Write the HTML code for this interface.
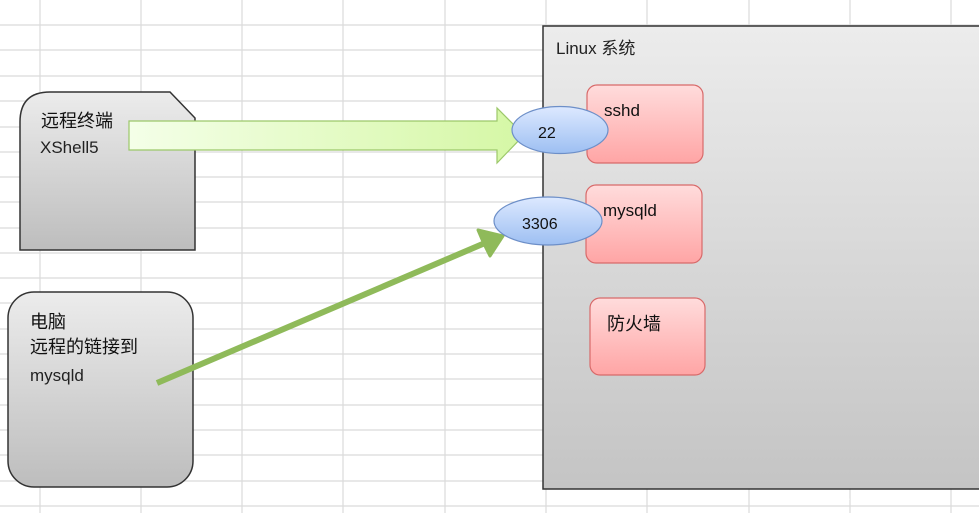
<!DOCTYPE html>
<html><head><meta charset="utf-8"><style>
body{margin:0;width:979px;height:513px;overflow:hidden;background:#fff;font-family:"Liberation Sans","Noto Sans CJK SC",sans-serif;}
</style></head><body>
<svg width="979" height="513" xmlns="http://www.w3.org/2000/svg" style="position:absolute;left:0;top:0">
<defs>
<linearGradient id="g1" x1="0" y1="0" x2="0" y2="1"><stop offset="0" stop-color="#ececec"/><stop offset="1" stop-color="#bdbdbd"/></linearGradient>
<linearGradient id="g2" x1="0" y1="0" x2="0" y2="1"><stop offset="0" stop-color="#ececec"/><stop offset="1" stop-color="#c4c4c4"/></linearGradient>
<linearGradient id="red" x1="0" y1="0" x2="0" y2="1"><stop offset="0" stop-color="#ffdcdc"/><stop offset="1" stop-color="#ffa5a5"/></linearGradient>
<linearGradient id="blue" x1="0" y1="0" x2="0" y2="1"><stop offset="0" stop-color="#dde9ff"/><stop offset="1" stop-color="#9dbff2"/></linearGradient>
<linearGradient id="grn" x1="0" y1="0" x2="1" y2="0"><stop offset="0" stop-color="#f4ffe8"/><stop offset="1" stop-color="#d5f7a5"/></linearGradient>
</defs>
<g stroke="#dadada" stroke-width="1.2">
<line x1="40" y1="0" x2="40" y2="513"/><line x1="141" y1="0" x2="141" y2="513"/><line x1="242" y1="0" x2="242" y2="513"/><line x1="343" y1="0" x2="343" y2="513"/><line x1="445" y1="0" x2="445" y2="513"/><line x1="546" y1="0" x2="546" y2="513"/><line x1="647" y1="0" x2="647" y2="513"/><line x1="749" y1="0" x2="749" y2="513"/><line x1="850" y1="0" x2="850" y2="513"/><line x1="951" y1="0" x2="951" y2="513"/>
<line x1="0" y1="25" x2="979" y2="25"/><line x1="0" y1="50" x2="979" y2="50"/><line x1="0" y1="76" x2="979" y2="76"/><line x1="0" y1="101" x2="979" y2="101"/><line x1="0" y1="127" x2="979" y2="127"/><line x1="0" y1="152" x2="979" y2="152"/><line x1="0" y1="177" x2="979" y2="177"/><line x1="0" y1="202" x2="979" y2="202"/><line x1="0" y1="228" x2="979" y2="228"/><line x1="0" y1="253" x2="979" y2="253"/><line x1="0" y1="278" x2="979" y2="278"/><line x1="0" y1="303" x2="979" y2="303"/><line x1="0" y1="329" x2="979" y2="329"/><line x1="0" y1="354" x2="979" y2="354"/><line x1="0" y1="379" x2="979" y2="379"/><line x1="0" y1="405" x2="979" y2="405"/><line x1="0" y1="430" x2="979" y2="430"/><line x1="0" y1="455" x2="979" y2="455"/><line x1="0" y1="481" x2="979" y2="481"/><line x1="0" y1="506" x2="979" y2="506"/>
</g>
<rect x="543" y="26" width="440" height="463" fill="url(#g2)" stroke="#333" stroke-width="1.5"/>
<text x="556" y="54" font-size="17" fill="#222">Linux 系统</text>
<path d="M20,250 L20,122 Q20,92 50,92 L170,92 L195,118 L195,250 Z" fill="url(#g1)" stroke="#333" stroke-width="1.5"/>
<text x="41" y="127" font-size="18" fill="#111">远程终端</text>
<text x="40" y="153" font-size="17" fill="#222">XShell5</text>
<rect x="8" y="292" width="185" height="195" rx="26" fill="url(#g1)" stroke="#333" stroke-width="1.5"/>
<text x="30" y="328" font-size="18" fill="#111">电脑</text>
<text x="30" y="353" font-size="18" fill="#111">远程的链接到</text>
<text x="30" y="381" font-size="17" fill="#222">mysqld</text>
<path d="M129,121 L497,121 L497,108 L524,135 L497,163 L497,150 L129,150 Z" fill="url(#grn)" stroke="#9cc86a" stroke-width="1.2"/>
<line x1="157" y1="383" x2="485" y2="243" stroke="#8fba5a" stroke-width="6"/>
<path d="M503,236 L478,230 L484,244 L490,256 Z" fill="#8fba5a" stroke="#8fba5a" stroke-width="3" stroke-linejoin="round"/>
<rect x="587" y="85" width="116" height="78" rx="10" fill="url(#red)" stroke="#d86a6a" stroke-width="1.2"/>
<rect x="586" y="185" width="116" height="78" rx="10" fill="url(#red)" stroke="#d86a6a" stroke-width="1.2"/>
<rect x="590" y="298" width="115" height="77" rx="10" fill="url(#red)" stroke="#d86a6a" stroke-width="1.2"/>
<ellipse cx="560" cy="130" rx="48" ry="23.5" fill="url(#blue)" stroke="#6d8fc8" stroke-width="1.2"/>
<ellipse cx="548" cy="221" rx="54" ry="24" fill="url(#blue)" stroke="#6d8fc8" stroke-width="1.2"/>
<text x="604" y="116" font-size="17" fill="#111">sshd</text>
<text x="603" y="216" font-size="17" fill="#111">mysqld</text>
<text x="607" y="330" font-size="18" fill="#111">防火墙</text>
<text x="538" y="138" font-size="16" fill="#111">22</text>
<text x="522" y="229" font-size="16" fill="#111">3306</text>
<text x="760" y="500" font-size="12" fill="#ffffff" opacity="0.8">https://blog.csdn.net/houswait</text>
</svg>
</body></html>
